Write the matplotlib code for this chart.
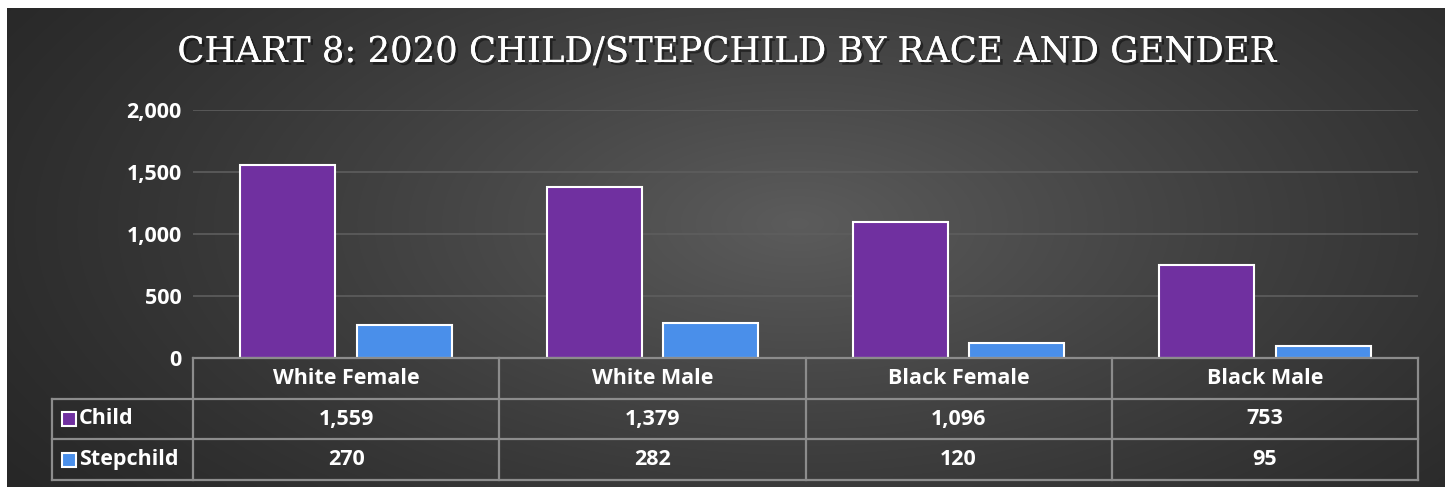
import matplotlib.pyplot as plt
import matplotlib.patheffects as pe
from matplotlib.patches import Rectangle
import numpy as np

categories = ["White Female", "White Male", "Black Female", "Black Male"]
series_names = ["Child", "Stepchild"]
child = [1559, 1379, 1096, 753]
stepchild = [270, 282, 120, 95]
yticks = [0, 500, 1000, 1500, 2000]

colors = ["#7030A0", "#4A8FEA"]
W, H = 1450, 491


def fig_rect(x0, y0, x1, y1):
    # pixel box (top-left origin) -> figure fraction [left, bottom, width, height]
    return [x0 / W, 1 - y1 / H, (x1 - x0) / W, (y1 - y0) / H]


fig = plt.figure(figsize=(W / 100, H / 100), dpi=100, facecolor="white")

# dark panel with a soft radial glow
bg = fig.add_axes(fig_rect(7, 8, 1444, 487))
bg.set_axis_off()
gx, gy = np.meshgrid(np.linspace(0, 1, 400), np.linspace(0, 1, 140))
r = np.sqrt(((gx - 0.55) / 0.75) ** 2 + ((gy - 0.45) / 1.1) ** 2)
shade = np.clip(1 - r, 0, 1) ** 1.3
val = 0.14 + 0.22 * shade
bg.imshow(np.dstack([val, val, val]), aspect="auto", extent=[0, 1, 0, 1],
          interpolation="bicubic")
bg.set_xlim(0, 1)
bg.set_ylim(0, 1)

font = "Open Sans"
fs = 15.5
txt = "white"

fig.text(727 / W, 1 - 52 / H, "CHART 8: 2020 CHILD/STEPCHILD BY RACE AND GENDER",
         ha="center", va="center", color=txt, fontsize=25.5, family="DejaVu Serif",
         path_effects=[pe.withSimplePatchShadow(offset=(2, -2), shadow_rgbFace="black", alpha=0.45),
                       pe.Normal()])

# bar panel
ax = fig.add_axes(fig_rect(193, 110, 1418, 358))
ax.set_facecolor("none")
x = np.arange(len(categories)) + 0.5
width = 0.31
ax.bar(x - 0.19, child, width, color=colors[0], edgecolor="white", linewidth=1.5, zorder=3)
ax.bar(x + 0.19, stepchild, width, color=colors[1], edgecolor="white", linewidth=1.5, zorder=3)
ax.set_xlim(0, len(categories))
ax.set_ylim(0, 2000)
ax.set_yticks(yticks)
ax.set_yticklabels([f"{v:,}" for v in yticks], color=txt, fontsize=fs,
                   fontweight="bold", family=font)
ax.tick_params(axis="y", length=0, pad=8)
ax.set_xticks([])
ax.grid(axis="y", color="#5e5e5e", linewidth=1.2, zorder=0)
for s in ax.spines.values():
    s.set_visible(False)

# data table under the bars
tb = fig.add_axes(fig_rect(52, 358, 1418, 480))
tb.set_axis_off()
unit = (1418 - 193) / len(categories)
left = -(193 - 52) / unit
tb.set_xlim(left, len(categories))
tb.set_ylim(3, 0)
lc = "#8c8c8c"
lw = 1.6
tb.plot([0, len(categories)], [0, 0], color=lc, lw=lw, clip_on=False)
for yy in [1, 2, 3]:
    tb.plot([left, len(categories)], [yy, yy], color=lc, lw=lw, clip_on=False)
for xx in range(len(categories) + 1):
    tb.plot([xx, xx], [0, 3], color=lc, lw=lw, clip_on=False)
tb.plot([left, left], [1, 3], color=lc, lw=lw, clip_on=False)

for i, c in enumerate(categories):
    tb.text(i + 0.5, 0.5, c, ha="center", va="center", color=txt,
            fontsize=fs, fontweight="bold", family=font)
for row, (name, vals, col) in enumerate(zip(series_names, [child, stepchild], colors), start=1):
    sq = 14 / unit
    tb.add_patch(Rectangle((left + 10 / unit, row + 0.5 - 0.17), sq, 0.34,
                           facecolor=col, edgecolor="white", linewidth=1.5, clip_on=False))
    tb.text(left + 27 / unit, row + 0.5, name, ha="left", va="center", color=txt,
            fontsize=fs, fontweight="bold", family=font)
    for i, v in enumerate(vals):
        tb.text(i + 0.5, row + 0.5, f"{v:,}", ha="center", va="center", color=txt,
                fontsize=fs, fontweight="bold", family=font)

fig.savefig("out.png", dpi=100, facecolor="white")
